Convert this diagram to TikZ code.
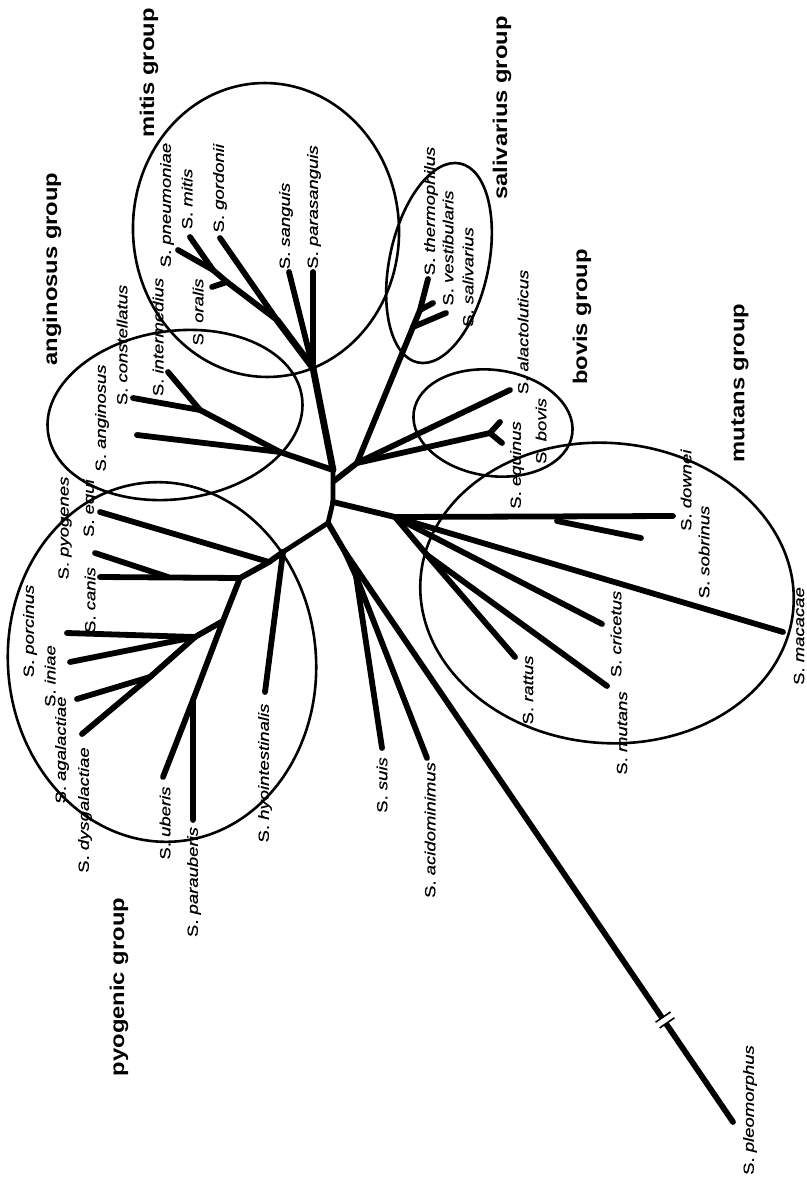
\documentclass[tikz,border=0pt]{standalone}
\usepackage{fontspec}
\newfontfamily\labfont[FakeStretch=1.25,FakeBold=0.6]{Liberation Sans}
\newfontfamily\grpfont[FakeStretch=1.2]{Liberation Sans}
\newcommand{\sn}[1]{S. \textit{#1}}
\tikzset{
  br/.style={line width=5.8pt, line cap=round, line join=round},
  trunk/.style={line width=6.8pt, line cap=round, line join=round},
  ring/.style={line width=2.6pt},
  lab/.style={font=\labfont\fontsize{14.8}{16}\selectfont, rotate=90, inner sep=0pt},
  grp/.style={font=\grpfont\bfseries\fontsize{19.8}{22}\selectfont, rotate=90, inner sep=0pt},
}
\begin{document}
\begin{tikzpicture}[x=1pt,y=-1pt]
\useasboundingbox (0,0) rectangle (806,1177);
% ---- tree points ----
\coordinate (A) at (333,470);
\coordinate (V) at (334,481);
\coordinate (C2) at (333,502);
\coordinate (C3) at (328,523);
\coordinate (Mi0) at (313,368);
\coordinate (Mi1) at (277,320);
\coordinate (Mi2) at (227,282);
\coordinate (Mi3) at (213,270);
\coordinate (pneu) at (178,250);
\coordinate (mitisE) at (190,237);
\coordinate (oral) at (212,287);
\coordinate (gord) at (220,238);
\coordinate (sang) at (289,272);
\coordinate (paras) at (313,272);
\coordinate (An0) at (280,452);
\coordinate (An1) at (200,410);
\coordinate (interm) at (168,372);
\coordinate (constel) at (133,398);
\coordinate (angin) at (137,435);
\coordinate (B0) at (357,463);
\coordinate (S0) at (413,327);
\coordinate (S1) at (420,310);
\coordinate (therm) at (428,279);
\coordinate (vestib) at (433,303);
\coordinate (saliv) at (446,313);
\coordinate (alacto) at (510,390);
\coordinate (Bf) at (490,433);
\coordinate (equin) at (500,422);
\coordinate (bovisE) at (502,443);
\coordinate (M0) at (395,517);
\coordinate (Ms) at (557,521);
\coordinate (downei) at (673,516);
\coordinate (sobr) at (641,538);
\coordinate (macac) at (783,632);
\coordinate (cricet) at (602,624);
\coordinate (M1) at (427,555);
\coordinate (rattus) at (515,657);
\coordinate (mutansE) at (607,686);
\coordinate (P1) at (345,552);
\coordinate (P2) at (356,576);
\coordinate (suis) at (382,748);
\coordinate (acido) at (427,758);
\coordinate (pleo) at (733,1122);
\coordinate (Py0) at (283,552);
\coordinate (Py1) at (269,562);
\coordinate (equi) at (100,512);
\coordinate (Py2) at (240,578);
\coordinate (canis) at (100,577);
\coordinate (PyP) at (168,577);
\coordinate (pyog) at (95,553);
\coordinate (Py3) at (223,621);
\coordinate (Py4) at (195,637);
\coordinate (porc) at (67,633);
\coordinate (iniae) at (70,662);
\coordinate (Py6) at (150,677);
\coordinate (agal) at (77,699);
\coordinate (dysg) at (82,734);
\coordinate (Py5) at (193,700);
\coordinate (uber) at (163,777);
\coordinate (parau) at (193,820);
\coordinate (hyo) at (265,692);

% ---- central backbone ----
\draw[br, line width=4.8pt] (A) -- (C2) -- (C3);
\draw[trunk] (Mi0) -- (A);
\draw[br] (An0) -- (A);
\draw[br] (V) -- (B0);
\draw[br] (C2) -- (M0);
\draw[br, line width=4.8pt] (C3) -- (Py0);
\draw[br] (C3) -- (P1);
% mitis
\draw[trunk] (Mi0) -- (Mi1);
\draw[br] (Mi0) -- (paras);
\draw[br] (Mi0) -- (sang);
\draw[br] (Mi1) -- (gord);
\draw[br] (Mi1) -- (Mi2) -- (Mi3);
\draw[br] (Mi3) -- (pneu);
\draw[br] (Mi3) -- (mitisE);
\draw[br] (Mi2) -- (oral);
% anginosus
\draw[br] (An0) -- (angin);
\draw[br] (An0) -- (An1);
\draw[br] (An1) -- (interm);
\draw[br] (An1) -- (constel);
% salivarius and bovis
\draw[br] (B0) -- (S0) -- (S1) -- (therm);
\draw[br] (S1) -- (vestib);
\draw[br] (S0) -- (saliv);
\draw[br] (B0) -- (alacto);
\draw[br] (B0) -- (Bf);
\draw[br] (Bf) -- (equin);
\draw[br] (Bf) -- (bovisE);
% mutans
\draw[br] (M0) -- (downei);
\draw[br] (Ms) -- (sobr);
\draw[br] (M0) -- (macac);
\draw[br] (M0) -- (cricet);
\draw[br] (M0) -- (M1);
\draw[br] (M1) -- (rattus);
\draw[br] (M1) -- (mutansE);
% suis, acidominimus, pleomorphus
\draw[br] (P1) -- (pleo);
\draw[br] (P1) -- (P2) -- (acido);
\draw[br] (P2) -- (suis);
% break marks
\draw[white, line width=9pt] (663.3,1017.5) -- (666.7,1022.5);
\draw[line width=1.6pt] (670.5,1012.0) -- (655.6,1022.2);
\draw[line width=1.6pt] (674.4,1017.8) -- (659.6,1028.0);
% pyogenic
\draw[br] (Py0) -- (hyo);
\draw[br] (Py0) -- (Py1) -- (equi);
\draw[br] (Py1) -- (Py2) -- (canis);
\draw[br] (PyP) -- (pyog);
\draw[br] (Py2) -- (Py3) -- (Py4) -- (porc);
\draw[br] (Py4) -- (iniae);
\draw[br] (Py4) -- (Py6) -- (dysg);
\draw[br] (Py6) -- (agal);
\draw[br] (Py3) -- (Py5) -- (parau);
\draw[br] (Py5) -- (uber);

% ---- species labels ----
\node[lab] (l-pneu) at (167,205) {\sn{pneumoniae}};
\node[lab] (l-mitis) at (187,199) {\sn{mitis}};
\node[lab] (l-gord) at (220,188) {\sn{gordonii}};
\node[lab] (l-oral) at (198,312) {\sn{oralis}};
\node[lab] (l-sang) at (286,226) {\sn{sanguis}};
\node[lab] (l-paras) at (314,207) {\sn{parasanguis}};
\node[lab] (l-interm) at (158,337) {\sn{intermedius}};
\node[lab] (l-constel) at (122,345) {\sn{constellatus}};
\node[lab] (l-angin) at (102,418) {\sn{anginosus}};
\node[lab] (l-pyog) at (65,528) {\sn{pyogenes}};
\node[lab] (l-equi) at (90,508) {\sn{equi}};
\node[lab] (l-canis) at (90,600) {\sn{canis}};
\node[lab] (l-porc) at (30,631) {\sn{porcinus}};
\node[lab] (l-iniae) at (50,676) {\sn{iniae}};
\node[lab] (l-agal) at (62,750) {\sn{agalactiae}};
\node[lab] (l-dysg) at (85,810) {\sn{dysgalactiae}};
\node[lab] (l-uber) at (165,823) {\sn{uberis}};
\node[lab] (l-parau) at (194,882) {\sn{parauberis}};
\node[lab] (l-hyo) at (265,773) {\sn{hyointestinalis}};
\node[lab] (l-suis) at (382,785) {\sn{suis}};
\node[lab] (l-acido) at (430,830) {\sn{acidominimus}};
\node[lab] (l-pleo) at (750,1110) {\sn{pleomorphus}};
\node[lab] (l-rattus) at (528,690) {\sn{rattus}};
\node[lab] (l-mutans) at (622,733) {\sn{mutans}};
\node[lab] (l-cricet) at (616,634) {\sn{cricetus}};
\node[lab] (l-sobr) at (704,552) {\sn{sobrinus}};
\node[lab] (l-downei) at (686,490) {\sn{downei}};
\node[lab] (l-macac) at (799,636) {\sn{macacae}};
\node[lab] (l-therm) at (431,211) {\sn{thermophilus}};
\node[lab] (l-vestib) at (448,248) {\sn{vestibularis}};
\node[lab] (l-saliv) at (468,277) {\sn{salivarius}};
\node[lab] (l-alacto) at (523,332) {\sn{alactoluticus}};
\node[lab] (l-equin) at (517,465) {\sn{equinus}};
\node[lab] (l-bovis) at (541,431) {\sn{bovis}};

% ---- group labels ----
\node[grp] (g-mitis) at (149,73) {mitis group};
\node[grp] (g-angin) at (52,269) {anginosus group};
\node[grp] (g-saliv) at (502,108) {salivarius group};
\node[grp] (g-bovis) at (582,317) {bovis group};
\node[grp] (g-mutans) at (740,383) {mutans group};
\node[grp] (g-pyog) at (119,987) {pyogenic group};

% ---- group ellipses ----
\draw[ring, rotate around={3:(266,230)}] (266,230) ellipse [x radius=133, y radius=147];
\draw[ring, rotate around={-12:(439,263)}] (439,263) ellipse [x radius=49.5, y radius=101.7];
\draw[ring, rotate around={8:(175,415)}] (175,415) ellipse [x radius=128.2, y radius=84];
\draw[ring, rotate around={-8:(493,423)}] (493,423) ellipse [x radius=80, y radius=53];
\draw[ring, rotate around={-5:(607,593)}] (607,593) ellipse [x radius=187, y radius=150];
\draw[ring, rotate around={5:(162,662)}] (162,662) ellipse [x radius=154, y radius=180];
\end{tikzpicture}
\end{document}
